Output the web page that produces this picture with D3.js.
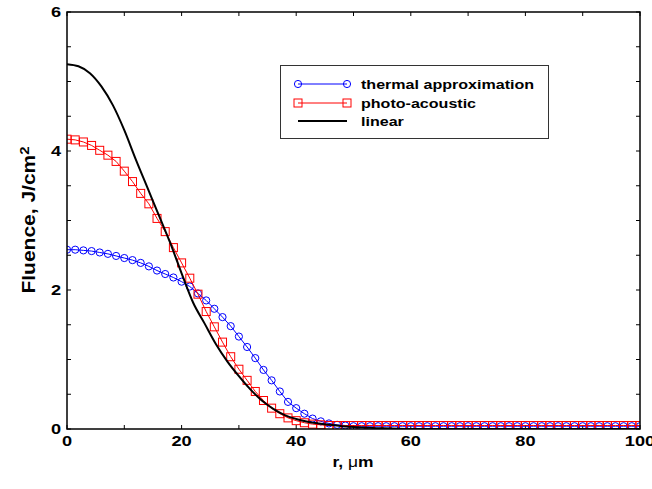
<!DOCTYPE html>
<html>
<head>
<meta charset="utf-8">
<script src="https://cdn.jsdelivr.net/npm/d3@7"></script>
<style>
  body { margin: 0; background: #fff; }
  svg { display: block; }
  text { font-family: "Liberation Sans", Arial, sans-serif; font-weight: bold; }
</style>
</head>
<body>
<svg id="chart" width="652" height="489"></svg>
<script>
// radial positions of the sampled points (um)
const rGrid = [0, 1.43, 2.86, 4.29, 5.71, 7.14, 8.57, 10, 11.43, 12.86, 14.29, 15.71, 17.14, 18.57, 20,
  21.43, 22.86, 24.29, 25.71, 27.14, 28.57, 30, 31.43, 32.86, 34.29, 35.71, 37.14, 38.57, 40,
  41.43, 42.86, 44.29, 45.71, 47.14, 48.57, 50, 51.43, 52.86, 54.29, 55.71, 57.14, 58.57, 60,
  61.43, 62.86, 64.29, 65.71, 67.14, 68.57, 70, 71.43, 72.86, 74.29, 75.71, 77.14, 78.57, 80,
  81.43, 82.86, 84.29, 85.71, 87.14, 88.57, 90, 91.43, 92.86, 94.29, 95.71, 97.14, 98.57, 100];

// thermal approximation (blue circles)
const thermal = [2.58, 2.58, 2.57, 2.56, 2.54, 2.52, 2.49, 2.46, 2.43, 2.39, 2.34, 2.28, 2.23, 2.18, 2.12,
  2.05, 1.95, 1.85, 1.73, 1.61, 1.48, 1.33, 1.18, 1.02, 0.85, 0.70, 0.54, 0.39, 0.30,
  0.22, 0.15, 0.11, 0.08, 0.06, 0.05, 0.04, 0.04, 0.04, 0.04, 0.04, 0.04, 0.04, 0.04,
  0.04, 0.04, 0.04, 0.04, 0.04, 0.04, 0.04, 0.04, 0.04, 0.04, 0.04, 0.04, 0.04, 0.04,
  0.04, 0.04, 0.04, 0.04, 0.04, 0.04, 0.04, 0.04, 0.04, 0.04, 0.04, 0.04, 0.04, 0.04];

// photo-acoustic (red squares)
const photo = [4.17, 4.16, 4.13, 4.08, 4.01, 3.94, 3.85, 3.71, 3.56, 3.39, 3.24, 3.03, 2.84, 2.61, 2.39,
  2.17, 1.94, 1.69, 1.47, 1.25, 1.04, 0.86, 0.70, 0.54, 0.41, 0.30, 0.22, 0.16, 0.12,
  0.09, 0.07, 0.06, 0.05, 0.05, 0.05, 0.05, 0.05, 0.05, 0.05, 0.05, 0.05, 0.05, 0.05,
  0.05, 0.05, 0.05, 0.05, 0.05, 0.05, 0.05, 0.05, 0.05, 0.05, 0.05, 0.05, 0.05, 0.05,
  0.05, 0.05, 0.05, 0.05, 0.05, 0.05, 0.05, 0.05, 0.05, 0.05, 0.05, 0.05, 0.05, 0.05];

// linear (black line)
const linearR = [0, 2, 4, 6, 8, 10, 12, 14, 16, 18, 20, 22, 24, 26, 28, 30, 32, 34, 36, 38, 40, 42, 44, 46, 48, 50, 55, 60, 100];
const linearV = [5.25, 5.22, 5.12, 4.93, 4.66, 4.30, 3.88, 3.48, 3.08, 2.68, 2.24, 1.82, 1.52, 1.22, 0.97, 0.76,
  0.57, 0.41, 0.29, 0.20, 0.145, 0.105, 0.08, 0.06, 0.04, 0.03, 0.01, 0, 0];

const xTicks = [0, 20, 40, 60, 80, 100];
const yTicks = [0, 2, 4, 6];

const plot = { left: 67, right: 640, top: 12, bottom: 429 };

const svg = d3.select("#chart");
const x = d3.scaleLinear().domain([0, 100]).range([plot.left, plot.right]);
const y = d3.scaleLinear().domain([0, 6]).range([plot.bottom, plot.top]);

svg.append("clipPath").attr("id", "clip")
  .append("rect")
  .attr("x", plot.left).attr("y", plot.top - 6)
  .attr("width", plot.right - plot.left).attr("height", plot.bottom - plot.top + 6);

// text in the source figure is a bit wider than plain Arial bold
const stretched = (sel, px, py, sx, sy) => sel.attr("transform", `translate(${px},${py}) scale(${sx},${sy || 1})`);

// ticks on all four sides, pointing inward
const minorX = d3.range(0, 101, 10);
const minorY = d3.range(0, 6.01, 0.5);
const tickG = svg.append("g").attr("stroke", "#000").attr("stroke-width", 1);
minorX.forEach(v => {
  tickG.append("line").attr("x1", x(v)).attr("x2", x(v)).attr("y1", plot.bottom).attr("y2", plot.bottom - 4);
  tickG.append("line").attr("x1", x(v)).attr("x2", x(v)).attr("y1", plot.top).attr("y2", plot.top + 4);
});
minorY.forEach(v => {
  tickG.append("line").attr("x1", plot.left).attr("x2", plot.left + 4).attr("y1", y(v)).attr("y2", y(v));
  tickG.append("line").attr("x1", plot.right).attr("x2", plot.right - 4).attr("y1", y(v)).attr("y2", y(v));
});

// tick labels
svg.append("g").selectAll("text").data(xTicks).join("text")
  .each(function (d) { stretched(d3.select(this), x(d), plot.bottom + 17, 1.3); })
  .attr("text-anchor", "middle").attr("font-size", 14)
  .text(d => d);
svg.append("g").selectAll("text").data(yTicks).join("text")
  .each(function (d) { stretched(d3.select(this), plot.left - 6, y(d) + 5, 1.3); })
  .attr("text-anchor", "end").attr("font-size", 14)
  .text(d => d);

// series
const g = svg.append("g").attr("clip-path", "url(#clip)");
const line = d3.line().x(d => x(d[0])).y(d => y(d[1]));

const thermalPts = rGrid.map((r, i) => [r, thermal[i]]);
const photoPts = rGrid.map((r, i) => [r, photo[i]]);
const linearPts = linearR.map((r, i) => [r, linearV[i]]);

g.append("path").datum(thermalPts).attr("d", line)
  .attr("fill", "none").attr("stroke", "#0000ff").attr("stroke-width", 1);
g.append("g").selectAll("circle").data(thermalPts).join("circle")
  .attr("cx", d => x(d[0])).attr("cy", d => y(d[1])).attr("r", 3.6)
  .attr("fill", "none").attr("stroke", "#0000ff").attr("stroke-width", 1);

g.append("path").datum(photoPts).attr("d", line)
  .attr("fill", "none").attr("stroke", "#ff0000").attr("stroke-width", 1);
g.append("g").selectAll("rect").data(photoPts).join("rect")
  .attr("x", d => x(d[0]) - 4).attr("y", d => y(d[1]) - 4).attr("width", 8).attr("height", 8)
  .attr("fill", "none").attr("stroke", "#ff0000").attr("stroke-width", 1);

g.append("path").datum(linearPts).attr("d", d3.line().x(d => x(d[0])).y(d => y(d[1])).curve(d3.curveMonotoneX))
  .attr("fill", "none").attr("stroke", "#000").attr("stroke-width", 2);

// frame
svg.append("rect")
  .attr("x", plot.left).attr("y", plot.top)
  .attr("width", plot.right - plot.left).attr("height", plot.bottom - plot.top)
  .attr("fill", "none").attr("stroke", "#000").attr("stroke-width", 1.5);

// axis titles
svg.append("text")
  .call(stretched, 353, 467, 1.2)
  .attr("text-anchor", "middle").attr("font-size", 14.5)
  .call(t => { t.append("tspan").text("r, "); t.append("tspan").attr("font-weight", "normal").text("μ"); t.append("tspan").text("m"); });
svg.append("text")
  .attr("transform", "translate(35,220) rotate(-90) scale(1.5,1.25)")
  .attr("text-anchor", "middle").attr("font-size", 14)
  .call(t => { t.append("tspan").text("Fluence, J/cm"); t.append("tspan").attr("dy", -5).attr("font-size", 10).text("2"); });

// legend
const lg = svg.append("g");
lg.append("rect").attr("x", 280.5).attr("y", 65.5).attr("width", 268).attr("height", 73)
  .attr("fill", "#fff").attr("stroke", "#333").attr("stroke-width", 1);
const legendItems = [
  { label: "thermal approximation", color: "#0000ff", marker: "circle", y: 84 },
  { label: "photo-acoustic", color: "#ff0000", marker: "square", y: 103 },
  { label: "linear", color: "#000", marker: null, y: 121 }
];
legendItems.forEach(it => {
  lg.append("line").attr("x1", 298).attr("x2", 347).attr("y1", it.y).attr("y2", it.y)
    .attr("stroke", it.color).attr("stroke-width", it.marker ? 1 : 2);
  [298, 347].forEach(px => {
    if (it.marker === "circle") {
      lg.append("circle").attr("cx", px).attr("cy", it.y).attr("r", 3.6)
        .attr("fill", "none").attr("stroke", it.color);
    } else if (it.marker === "square") {
      lg.append("rect").attr("x", px - 4).attr("y", it.y - 4).attr("width", 8).attr("height", 8)
        .attr("fill", "none").attr("stroke", it.color);
    }
  });
  lg.append("text").call(stretched, 361, it.y + 5, 1.19).attr("font-size", 13.5).text(it.label);
});
</script>
</body>
</html>
